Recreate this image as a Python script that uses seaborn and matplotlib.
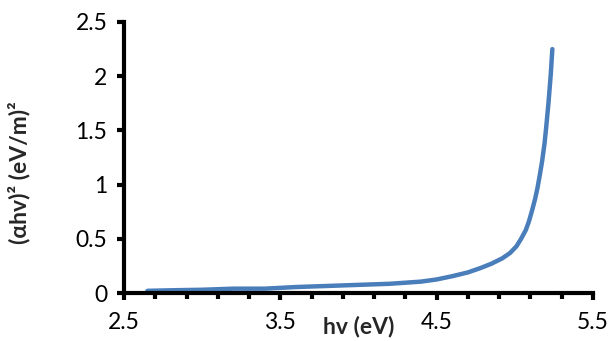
import numpy as np
import pandas as pd
import matplotlib
matplotlib.use("Agg")
import matplotlib.pyplot as plt
from matplotlib.ticker import FixedLocator
import seaborn as sns

hv = [2.65, 2.8, 3.0, 3.2, 3.4, 3.6, 3.8, 4.0, 4.2, 4.4, 4.5, 4.6, 4.7, 4.78, 4.85, 4.92,
      4.97, 5.01, 5.04, 5.07, 5.09, 5.11, 5.13, 5.145, 5.16, 5.175, 5.19, 5.20, 5.215, 5.23, 5.24]
ahv2 = [0.02, 0.025, 0.03, 0.04, 0.04, 0.055, 0.065, 0.075, 0.085, 0.105, 0.125, 0.155, 0.19, 0.23,
        0.27, 0.32, 0.37, 0.43, 0.50, 0.58, 0.66, 0.76, 0.87, 0.97, 1.09, 1.22, 1.38, 1.52, 1.75, 2.02, 2.25]

x_major = [2.5, 3.5, 4.5, 5.5]
y_major = [0, 0.5, 1, 1.5, 2, 2.5]
y_labels = ["0", "0.5", "1", "1.5", "2", "2.5"]

sns.set_style("ticks")
plt.rcParams['font.family'] = ['Lato', 'DejaVu Sans']

fig = plt.figure(figsize=(6.1, 3.41), dpi=100)
ax = fig.add_axes([124/610, 1-293/341, (593-124)/610, (293-22)/341])

df = pd.DataFrame({"hv": hv, "a": ahv2})
sns.lineplot(data=df, x="hv", y="a", ax=ax, color="#4a7ebb", linewidth=3.2,
             solid_capstyle="round", solid_joinstyle="round", sort=False)

ax.set_xlim(2.5, 5.5)
ax.set_ylim(0, 2.5)
ax.xaxis.set_major_locator(FixedLocator(x_major))
ax.xaxis.set_minor_locator(FixedLocator(list(np.arange(2.7, 5.4, 0.2))))
ax.set_xticklabels(["2.5", "3.5", "4.5", "5.5"])
ax.set_yticks(y_major)
ax.set_yticklabels(y_labels)

for s in ["top", "right"]:
    ax.spines[s].set_visible(False)
for s in ["left", "bottom"]:
    ax.spines[s].set_linewidth(3)
    ax.spines[s].set_color("black")
    ax.spines[s].set_capstyle("projecting")

ax.tick_params(axis="both", which="major", direction="out", length=5, width=3,
               labelsize=16.5, colors="black")
ax.tick_params(axis="x", which="minor", direction="out", length=4, width=3, colors="black")
ax.tick_params(axis="x", which="major", pad=9)
ax.tick_params(axis="y", which="major", pad=7)

ax.set_xlabel("")
ax.set_ylabel("")
ax.text(4.0, -0.31, "hv (eV)", fontsize=16.5, fontweight="bold", ha="center", va="center",
        transform=ax.transData, clip_on=False)
fig.text(19/610, 1-173/341, "(αhv)² (eV/m)²", fontsize=16.5, fontweight="bold",
         rotation=90, ha="center", va="center")

fig.savefig("out.png", dpi=100)
